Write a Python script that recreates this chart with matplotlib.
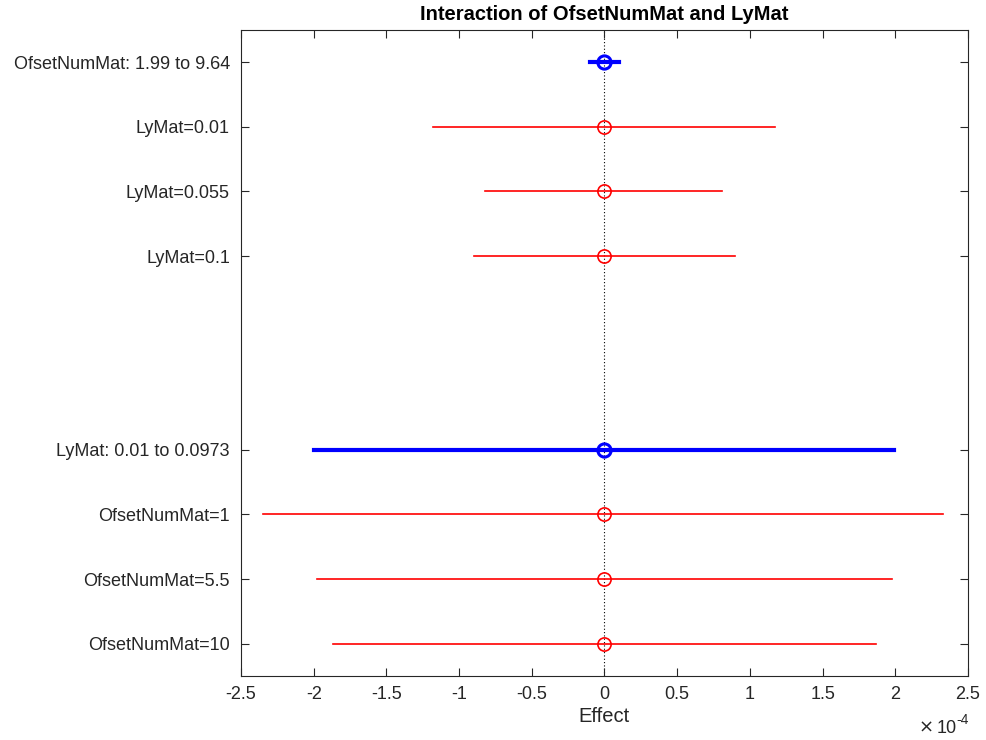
import matplotlib
matplotlib.use("Agg")
from matplotlib import pyplot as plt
from matplotlib import ticker
import numpy as np

# rows of the interaction plot, top to bottom
labels = ["OfsetNumMat: 1.99 to 9.64", "LyMat=0.01", "LyMat=0.055", "LyMat=0.1",
          "LyMat: 0.01 to 0.0973", "OfsetNumMat=1", "OfsetNumMat=5.5", "OfsetNumMat=10"]
rows = [1, 2, 3, 4, 7, 8, 9, 10]
effect = [0.0, 0.0, 0.0, 0.0, 0.0, 0.0, 0.0, 0.0]
lower = [-0.10e-4, -1.18e-4, -0.82e-4, -0.90e-4, -2.00e-4, -2.35e-4, -1.98e-4, -1.87e-4]
upper = [0.10e-4, 1.17e-4, 0.81e-4, 0.90e-4, 1.99e-4, 2.33e-4, 1.98e-4, 1.87e-4]
is_main = [True, False, False, False, True, False, False, False]

plt.rcParams['font.family'] = ['Liberation Sans', 'DejaVu Sans']
dark = "#262626"

fig = plt.figure(figsize=(9.87, 7.4), dpi=100)
ax = fig.add_axes([0.2442, 0.0865, 0.7365, 0.873])

ax.axvline(0, color="black", linestyle=(0, (1, 2)), linewidth=0.8, zorder=1)

for y, e, lo, hi, main in zip(rows, effect, lower, upper, is_main):
    c = "blue" if main else "red"
    lw = 3 if main else 1.2
    ax.plot([lo, hi], [y, y], color=c, linewidth=lw, zorder=2)
    ax.plot(e, y, marker="o", markersize=9.5, markerfacecolor="none",
            markeredgecolor=c, markeredgewidth=2.2 if main else 1.2, zorder=3)

ax.set_xlim(-2.5e-4, 2.5e-4)
ax.set_ylim(10.5, 0.5)
ax.set_yticks(rows)
ax.set_yticklabels(labels)
ax.set_xticks(np.arange(-2.5e-4, 2.51e-4, 0.5e-4))
ax.xaxis.set_major_formatter(ticker.FuncFormatter(lambda v, p: "%g" % round(v / 1e-4, 2)))

ax.tick_params(direction="in", top=True, right=True, length=6, width=0.8,
               colors=dark, labelsize=13)
ax.tick_params(axis="x", pad=7)
ax.tick_params(axis="y", pad=8)
for s in ax.spines.values():
    s.set_color(dark)
    s.set_linewidth(0.8)

ax.set_xlabel("Effect", fontsize=14.5, color=dark, labelpad=3)
ax.set_title("Interaction of OfsetNumMat and LyMat", fontsize=14.5, fontweight="bold", pad=7)

# x-axis scale factor, x10^-4
ax.text(0.953, -0.088, "\u00d7", transform=ax.transAxes, ha="right",
        va="baseline", fontsize=13, color=dark, family="DejaVu Sans")
ax.text(0.984, -0.088, "10", transform=ax.transAxes, ha="right",
        va="baseline", fontsize=13, color=dark)
ax.text(0.984, -0.074, "-4", transform=ax.transAxes, ha="left",
        va="baseline", fontsize=10, color=dark)

fig.savefig("out.png", dpi=100)
